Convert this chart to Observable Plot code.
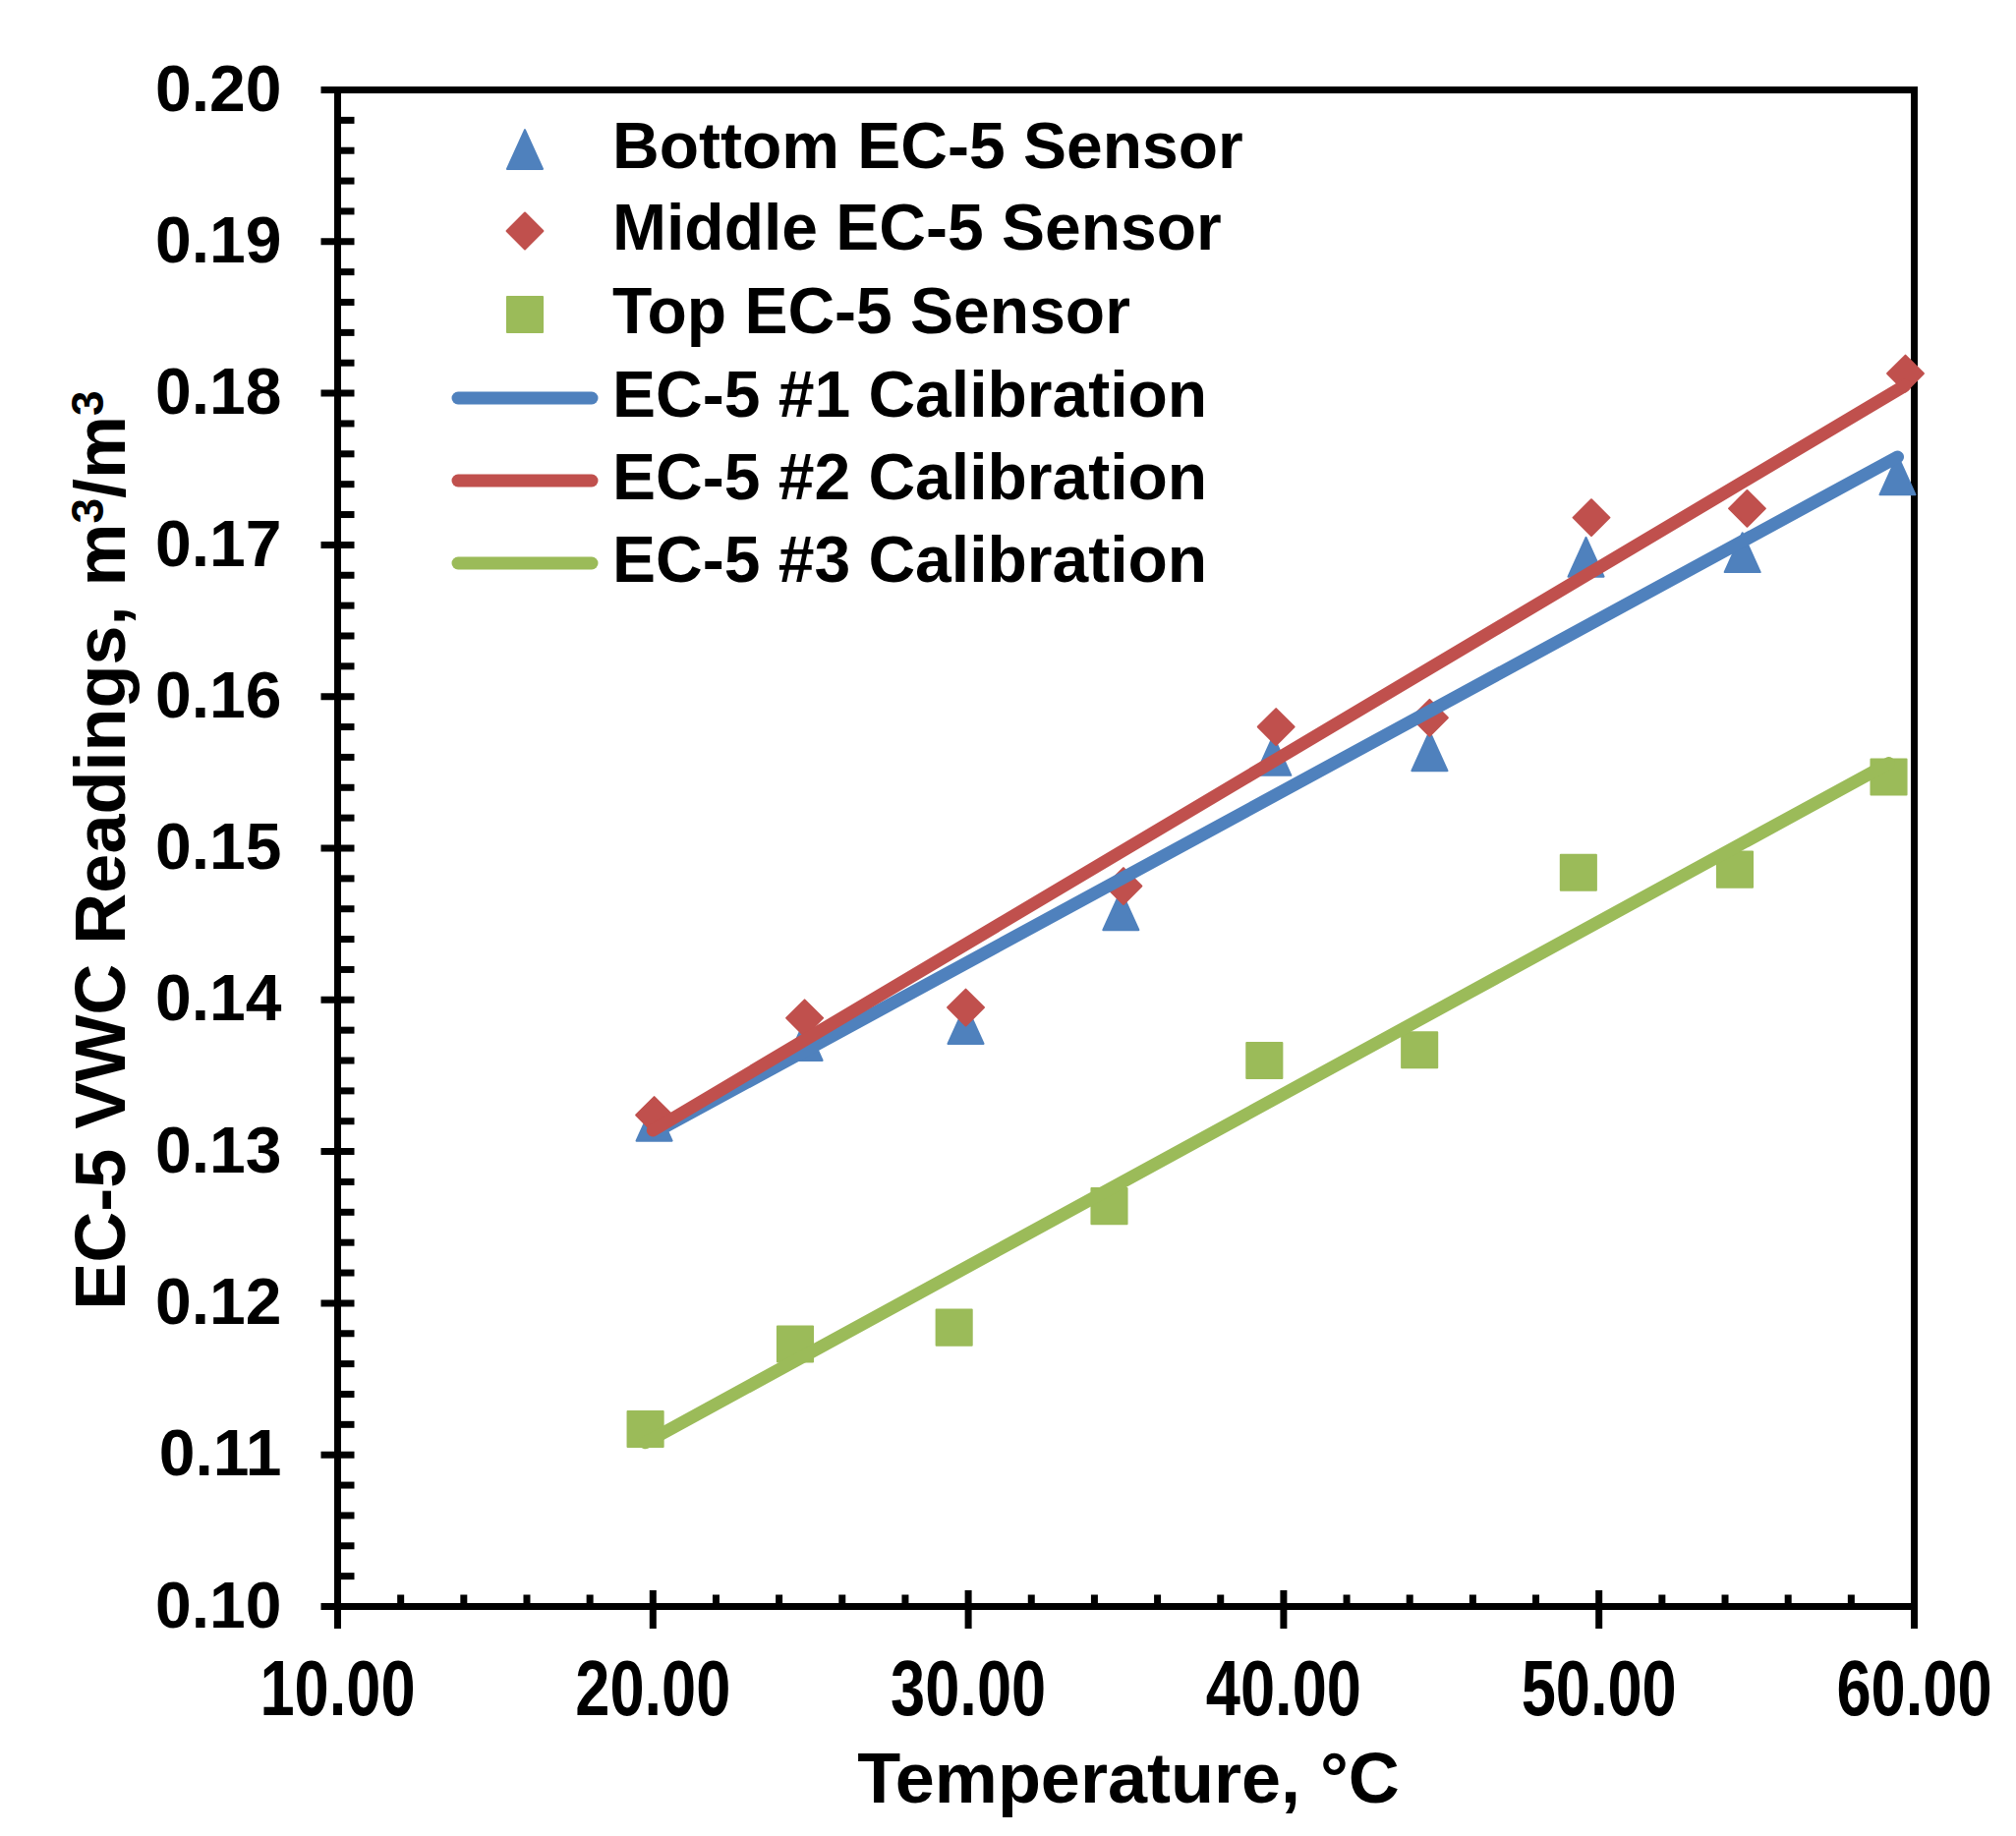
<!DOCTYPE html>
<html>
<head>
<meta charset="utf-8">
<script src="https://cdn.jsdelivr.net/npm/d3@7"></script>
<script src="https://cdn.jsdelivr.net/npm/@observablehq/plot@0.6"></script>
<style>
  html, body { margin: 0; padding: 0; background: white; overflow: hidden; }
  #chart svg { display: block; }
</style>
</head>
<body>
<div id="chart"></div>
<script>
/* Datos */
const bottomTemp = [20.04, 24.81, 29.92, 34.84, 39.67, 44.63, 49.59, 54.55, 59.47]
const bottomVWC  = [0.1320, 0.1373, 0.1384, 0.1459, 0.1561, 0.1564, 0.1692, 0.1695, 0.1746]
const middleTemp = [20.04, 24.81, 29.92, 34.92, 39.76, 44.63, 49.76, 54.70, 59.72]
const middleVWC  = [0.1324, 0.1388, 0.1395, 0.1475, 0.1580, 0.1586, 0.1718, 0.1724, 0.1813]
const topTemp    = [19.76, 24.51, 29.55, 34.47, 39.39, 44.31, 49.35, 54.31, 59.19]
const topVWC     = [0.1117, 0.1173, 0.1184, 0.1264, 0.1360, 0.1367, 0.1484, 0.1486, 0.1547]

/* Rectas de calibracion (extremos) */
const cal1Temp = [20.00, 59.47]
const cal1VWC  = [0.1312, 0.1758]
const cal2Temp = [20.00, 59.70]
const cal2VWC  = [0.1314, 0.1805]
const cal3Temp = [19.76, 59.19]
const cal3VWC  = [0.1108, 0.1556]

/* Ejes */
const xMajor = [10, 20, 30, 40, 50, 60]
const yMajor = [0.10, 0.11, 0.12, 0.13, 0.14, 0.15, 0.16, 0.17, 0.18, 0.19, 0.20]
const xMinor = d3.range(10, 60.001, 2).filter(v => v % 10 !== 0)
const yMinor = d3.range(0, 51).filter(i => i % 5 !== 0).map(i => 0.10 + i * 0.002)

const legendLabels = [
  "Bottom EC-5 Sensor", "Middle EC-5 Sensor", "Top EC-5 Sensor",
  "EC-5 #1 Calibration", "EC-5 #2 Calibration", "EC-5 #3 Calibration"
]

const blue = '#4F81BD'
const red = '#C0504D'
const green = '#9BBB59'
const font = '"Liberation Sans", Arial, Helvetica, sans-serif'

const rows = (xs, ys) => xs.map((x, i) => ({x, y: ys[i]}))

/* Marcadores estilo Excel */
const triangleShape = {draw(ctx, size) {
  const s = Math.sqrt(size / Math.PI)
  ctx.moveTo(0, -1.05 * s); ctx.lineTo(0.95 * s, 1.05 * s); ctx.lineTo(-0.95 * s, 1.05 * s); ctx.closePath()
}}
const diamondShape = {draw(ctx, size) {
  const s = Math.sqrt(size / Math.PI) * 0.97
  ctx.moveTo(0, -s); ctx.lineTo(s, 0); ctx.lineTo(0, s); ctx.lineTo(-s, 0); ctx.closePath()
}}
const squareShape = {draw(ctx, size) {
  const s = Math.sqrt(size / Math.PI) * 0.95
  ctx.rect(-s, -s, 2 * s, 2 * s)
}}
const tickShape = {draw(ctx, l) { ctx.moveTo(0, 0); ctx.lineTo(0, -l) }}

const markerStyle = c => ({r: 19, fill: c, stroke: c, strokeWidth: 2, strokeLinejoin: 'round'})
const tickStyle = {stroke: 'black', strokeWidth: 7, shape: tickShape, strokeLinecap: 'butt'}

const chart = Plot.plot({
  width: 2051,
  height: 1868,
  marginLeft: 343,
  marginRight: 104,
  marginTop: 91,
  marginBottom: 234,
  style: {fontFamily: font, background: 'white', color: 'black'},
  x: {domain: [10, 60], axis: null},
  y: {domain: [0.10, 0.20], axis: null},
  marks: [
    Plot.frame({stroke: 'black', strokeWidth: 7}),
    // ticks del eje Y
    Plot.vector(yMajor, {x: 10, y: d => d, length: 34, rotate: 90, anchor: 'middle', ...tickStyle}),
    Plot.vector(yMinor, {x: 10, y: d => d, length: 17, rotate: 90, anchor: 'start', ...tickStyle}),
    // ticks del eje X
    Plot.vector(xMajor, {x: d => d, y: 0.10, length: 39, rotate: 0, anchor: 'middle', dy: 3, ...tickStyle}),
    Plot.vector(xMinor, {x: d => d, y: 0.10, length: 12, rotate: 0, anchor: 'start', ...tickStyle}),
    Plot.axisY(yMajor, {
      tickSize: 0, tickPadding: 57, tickFormat: d3.format('.2f'),
      fontSize: 66, fontWeight: 'bold', fontFamily: font, label: null
    }),
    Plot.axisX(xMajor, {
      tickSize: 0, tickPadding: 54, tickFormat: d3.format('.2f'),
      fontSize: 80, fontWeight: 'bold', fontFamily: font, label: null
    }),
    // sensores
    Plot.dot(rows(bottomTemp, bottomVWC), {x: 'x', y: 'y', symbol: triangleShape, ...markerStyle(blue)}),
    Plot.dot(rows(middleTemp, middleVWC), {x: 'x', y: 'y', symbol: diamondShape, ...markerStyle(red)}),
    Plot.dot(rows(topTemp, topVWC), {x: 'x', y: 'y', symbol: squareShape, ...markerStyle(green)}),
    // calibraciones
    Plot.line(rows(cal1Temp, cal1VWC), {x: 'x', y: 'y', stroke: blue, strokeWidth: 13, strokeLinecap: 'round'}),
    Plot.line(rows(cal2Temp, cal2VWC), {x: 'x', y: 'y', stroke: red, strokeWidth: 13, strokeLinecap: 'round'}),
    Plot.line(rows(cal3Temp, cal3VWC), {x: 'x', y: 'y', stroke: green, strokeWidth: 13, strokeLinecap: 'round'}),
  ]
})

const svg = d3.select(chart)

/* Etiquetas del eje X comprimidas (como en el original) */
svg.selectAll('g[aria-label="x-axis tick label"] text').each(function() {
  const t = d3.select(this)
  t.attr('transform', (t.attr('transform') || '') + ' scale(0.79,1)')
})

/* Titulo eje Y con superindices */
const yl = svg.append('text')
  .attr('transform', 'translate(127, 865) rotate(-90)')
  .attr('text-anchor', 'middle')
  .attr('font-family', font)
  .attr('font-weight', 'bold')
  .attr('font-size', 72)
  .attr('fill', 'black')
yl.append('tspan').text('EC-5 VWC Readings, m')
yl.append('tspan').attr('dy', -22).attr('font-size', 46).text('3')
yl.append('tspan').attr('dy', 22).text('/m')
yl.append('tspan').attr('dy', -22).attr('font-size', 46).text('3')

/* Titulo eje X */
svg.append('text')
  .attr('x', 1148).attr('y', 1834)
  .attr('text-anchor', 'middle')
  .attr('font-family', font)
  .attr('font-weight', 'bold')
  .attr('font-size', 72)
  .attr('fill', 'black')
  .text('Temperature, °C')

/* Leyenda */
const legendY = [152, 235, 320, 405, 489, 573]
const legendItems = [
  {kind: triangleShape, color: blue},
  {kind: diamondShape, color: red},
  {kind: squareShape, color: green},
  {line: true, color: blue},
  {line: true, color: red},
  {line: true, color: green},
]
const lg = svg.append('g').attr('class', 'legend')
legendItems.forEach((it, i) => {
  const cy = legendY[i]
  if (it.line) {
    lg.append('line')
      .attr('x1', 466).attr('x2', 602).attr('y1', cy).attr('y2', cy)
      .attr('stroke', it.color).attr('stroke-width', 13).attr('stroke-linecap', 'round')
  } else {
    lg.append('path')
      .attr('transform', `translate(534,${cy})`)
      .attr('d', d3.symbol(it.kind, 19 * 19 * Math.PI)())
      .attr('fill', it.color).attr('stroke', it.color)
      .attr('stroke-width', 2).attr('stroke-linejoin', 'round')
  }
  lg.append('text')
    .attr('x', 623).attr('y', cy + 19)
    .attr('text-anchor', 'start')
    .attr('font-family', font)
    .attr('font-weight', 'bold')
    .attr('font-size', 66)
    .attr('fill', 'black')
    .text(legendLabels[i])
})

d3.select('#chart').append(() => chart)
</script>
</body>
</html>
